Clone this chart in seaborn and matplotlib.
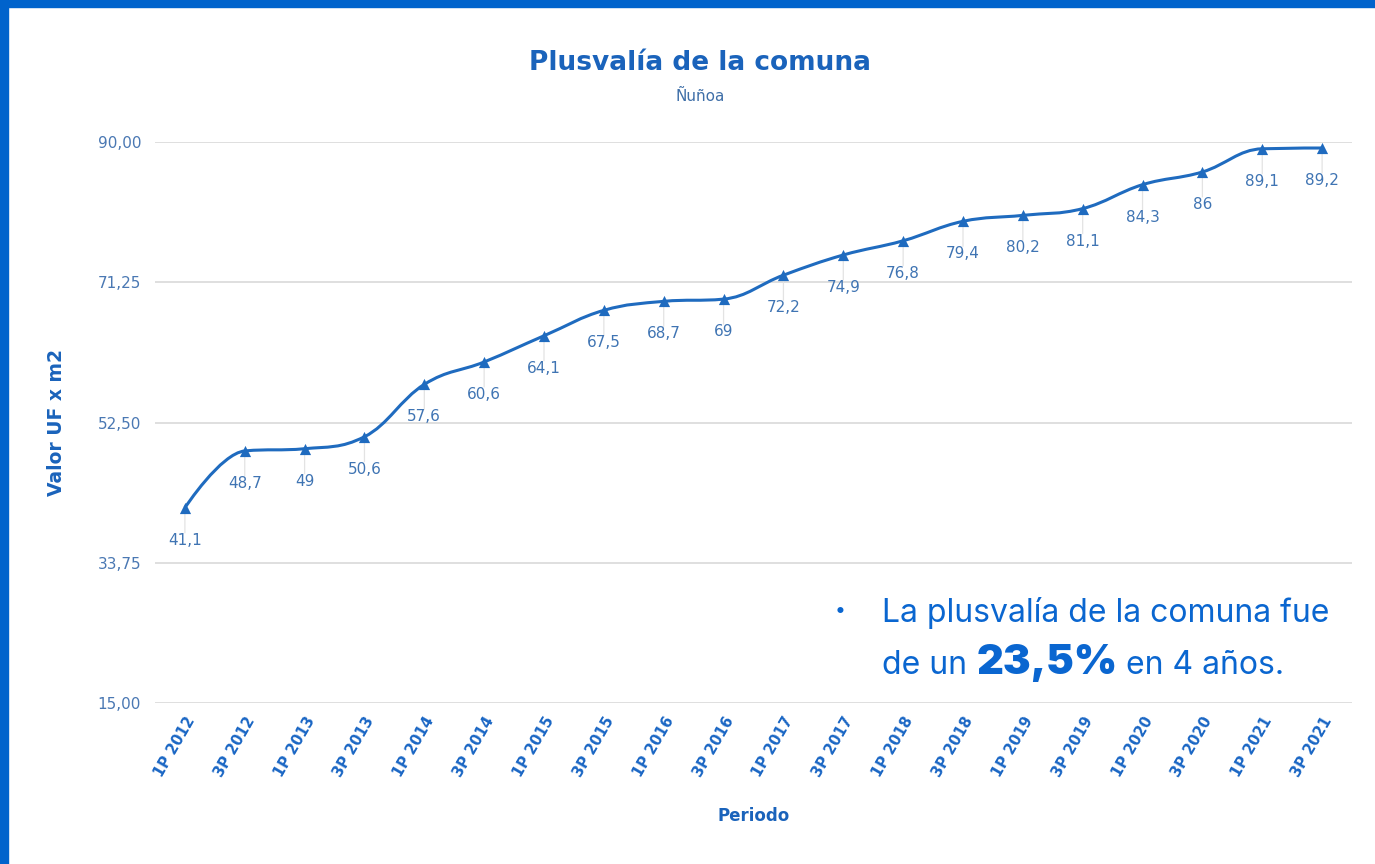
import numpy as np
import pandas as pd
import matplotlib
matplotlib.use("Agg")
import matplotlib.pyplot as plt
from matplotlib.path import Path
from matplotlib.patches import PathPatch, Rectangle
import seaborn as sns

# --- data ---
periods = ["1P 2012", "3P 2012", "1P 2013", "3P 2013", "1P 2014", "3P 2014",
           "1P 2015", "3P 2015", "1P 2016", "3P 2016", "1P 2017", "3P 2017",
           "1P 2018", "3P 2018", "1P 2019", "3P 2019", "1P 2020", "3P 2020",
           "1P 2021", "3P 2021"]
values = [41.1, 48.7, 49, 50.6, 57.6, 60.6, 64.1, 67.5, 68.7, 69,
          72.2, 74.9, 76.8, 79.4, 80.2, 81.1, 84.3, 86, 89.1, 89.2]
y_ticks = [15, 33.75, 52.5, 71.25, 90]

LINE = "#1f6bbf"
LABEL = "#3f74b3"
TICK = "#4a78b3"
DARK = "#1a63bb"
NOTE = "#0a66d0"

df = pd.DataFrame({"periodo": periods, "valor": values})
df["x"] = np.arange(len(df))

sns.set_theme(style="white")
plt.rcParams["font.family"] = ["Verdana", "DejaVu Sans"]

fig = plt.figure(figsize=(13.75, 8.64), dpi=100, facecolor="white")
ax = fig.add_axes([0.1127, 0.1863, 0.8706, 0.6493])
ax.set_facecolor("white")


def spline_path(xs, ys, smoothing=1.5):
    # highcharts style spline: bezier control points from neighbours
    n = len(xs)
    left = [None] * n
    right = [None] * n
    denom = smoothing + 1
    for i in range(1, n - 1):
        x, y = xs[i], ys[i]
        px, py = xs[i - 1], ys[i - 1]
        nx, ny = xs[i + 1], ys[i + 1]
        lcx = (smoothing * x + px) / denom
        lcy = (smoothing * y + py) / denom
        rcx = (smoothing * x + nx) / denom
        rcy = (smoothing * y + ny) / denom
        if rcx != lcx:
            corr = (rcy - lcy) * (rcx - x) / (rcx - lcx) + y - rcy
            lcy += corr
            rcy += corr
        if lcy > py and lcy > y:
            lcy = max(py, y)
            rcy = 2 * y - lcy
        elif lcy < py and lcy < y:
            lcy = min(py, y)
            rcy = 2 * y - lcy
        if rcy > ny and rcy > y:
            rcy = max(ny, y)
            lcy = 2 * y - rcy
        elif rcy < ny and rcy < y:
            rcy = min(ny, y)
            lcy = 2 * y - rcy
        left[i] = (lcx, lcy)
        right[i] = (rcx, rcy)
    verts = [(xs[0], ys[0])]
    codes = [Path.MOVETO]
    for i in range(1, n):
        c1 = right[i - 1] if right[i - 1] is not None else (xs[i - 1], ys[i - 1])
        c2 = left[i] if left[i] is not None else (xs[i], ys[i])
        verts += [c1, c2, (xs[i], ys[i])]
        codes += [Path.CURVE4] * 3
    return Path(verts, codes)


# grid
for t in y_ticks:
    ax.axhline(t, color="#d9d9d9", lw=1.2, zorder=0)

# connectors + data labels
for x, v in zip(df["x"], df["valor"]):
    ax.annotate("", xy=(x, v), xytext=(0, -18), textcoords="offset points",
                arrowprops=dict(arrowstyle="-", color="#e3e3e3", lw=0.9,
                                shrinkA=0, shrinkB=0), zorder=1)
    ax.annotate(f"{v:g}".replace(".", ","), xy=(x, v), xytext=(0, -18),
                textcoords="offset points", ha="center", va="top",
                fontsize=11, color=LABEL, zorder=2)

ax.add_patch(PathPatch(spline_path(df["x"].tolist(), df["valor"].tolist()),
                       facecolor="none", edgecolor=LINE, lw=2.2, zorder=3))
sns.scatterplot(data=df, x="x", y="valor", marker="^", s=65, color=LINE,
                edgecolor=LINE, linewidth=0, ax=ax, zorder=4)

ax.set_xlim(-0.5, len(df) - 0.5)
ax.set_ylim(15, 90)
ax.set_yticks(y_ticks)
ax.set_yticklabels([f"{t:.2f}".replace(".", ",") for t in y_ticks],
                   color=TICK, fontsize=11)
ax.set_xticks(df["x"])
ax.set_xticklabels(df["periodo"], rotation=60, ha="right", va="top",
                   rotation_mode="anchor", color="#1a66c4", fontsize=10.5,
                   fontweight="bold")
ax.tick_params(axis="y", length=0, pad=10)
ax.tick_params(axis="x", length=0, pad=8)
for s in ax.spines.values():
    s.set_visible(False)

ax.set_xlabel("Periodo", color=DARK, fontsize=12, fontweight="bold")
ax.set_ylabel("Valor UF x m2", color=DARK, fontsize=13.5, fontweight="bold")
ax.yaxis.set_label_coords(-0.074, 0.5)
ax.xaxis.set_label_coords(0.5, -0.185)

fig.text(0.509, 0.927, "Plusvalía de la comuna", ha="center", va="center",
         fontsize=19, fontweight="bold", color=DARK)
fig.text(0.509, 0.888, "Ñuñoa", ha="center", va="center", fontsize=11,
         color="#3f6fa8")

# frame bands
fig.patches.append(Rectangle((0, 0), 8 / 1375, 1, transform=fig.transFigure,
                             color="#0063cc", zorder=10))
fig.patches.append(Rectangle((0, 1 - 7 / 864), 1, 7 / 864,
                             transform=fig.transFigure, color="#0063cc",
                             zorder=10))

# note
note_font = ["Inter", "DejaVu Sans"]
fig.text(840 / 1375, 1 - 611 / 864, "•", ha="center", va="center",
         fontsize=14, color=NOTE, family=note_font)
fig.text(882 / 1375, 1 - 622 / 864, "La plusvalía de la comuna fue",
         ha="left", va="baseline", fontsize=23, color=NOTE, family=note_font)
t1 = fig.text(882 / 1375, 1 - 674 / 864, "de un", ha="left", va="baseline",
              fontsize=23, color=NOTE, family=note_font)
fig.canvas.draw()
r = fig.canvas.get_renderer()
x1 = t1.get_window_extent(r).x1
t2 = fig.text((x1 + 10) / 1375, 1 - 674 / 864, "23,5%", ha="left",
              va="baseline", fontsize=30, fontweight="black", color=NOTE,
              family=note_font)
x2 = t2.get_window_extent(r).x1
fig.text((x2 + 8) / 1375, 1 - 674 / 864, "en 4 años.", ha="left",
         va="baseline", fontsize=23, color=NOTE, family=note_font)

fig.savefig("out.png", dpi=100, facecolor="white")
